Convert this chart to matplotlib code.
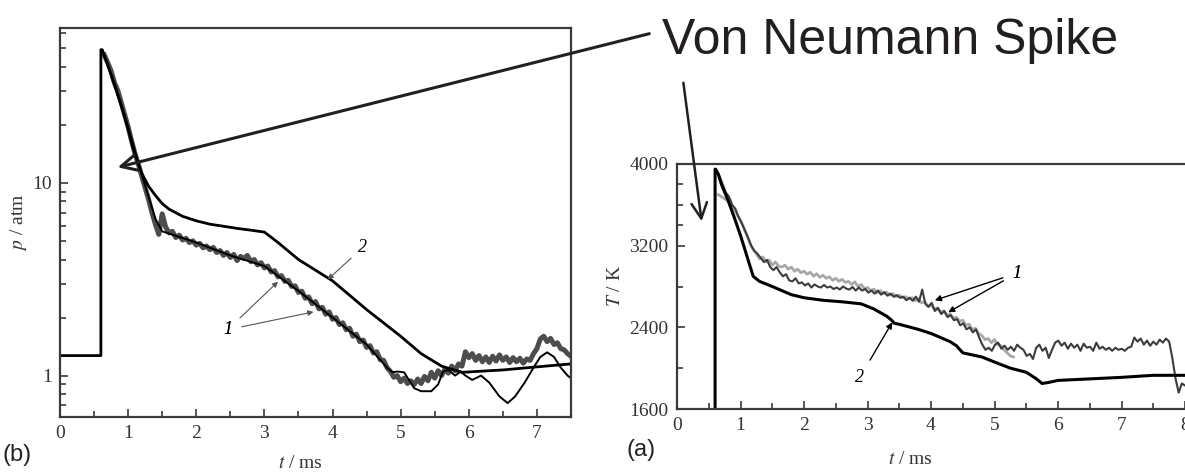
import numpy as np
import matplotlib
matplotlib.use("Agg")
import matplotlib.pyplot as plt
from matplotlib.ticker import FixedLocator, NullFormatter, FixedFormatter

plt.rcParams['font.family'] = 'serif'
plt.rcParams['font.serif'] = ['Liberation Serif', 'DejaVu Serif']
plt.rcParams['mathtext.fontset'] = 'stix'

W, H = 1185, 474

# ---------------- panel (b): pressure, log axis ----------------
# curve 2 (model, smooth black), including the initial step
t_p2 = [0.0, 0.6, 0.6, 0.62, 0.7, 0.8, 0.9, 1.0, 1.1, 1.2, 1.3, 1.4, 1.5, 1.6, 1.8,
        2.0, 2.2, 2.4, 2.6, 2.8, 3.0, 3.2, 3.5, 4.0, 4.5, 5.0, 5.3, 5.6, 5.9, 6.5,
        7.0, 7.5]
p2 = [1.27, 1.27, 49, 49, 41, 32, 25, 19, 14, 11.2, 9.6, 8.6, 7.8, 7.3, 6.7,
      6.35, 6.1, 5.95, 5.8, 5.68, 5.55, 4.9, 4.0, 3.1, 2.2, 1.6, 1.3, 1.12, 1.04, 1.07,
      1.11, 1.15]

# curve 1 (measured, noisy grey trace), sampled every 0.05 ms from 0.65 ms
p1_exp = [46, 42, 38, 33, 30, 26, 22.5, 19.5, 16.5, 14.2, 12.5, 10.8, 9.4, 8.2, 7.0,
          6.1, 5.4, 6.9, 5.9, 5.5, 5.6, 5.2, 5.35, 5.05, 5.15, 4.9, 5.0, 4.75, 4.85,
          4.6, 4.7, 4.5, 4.62, 4.35, 4.45, 4.2, 4.35, 4.1, 4.25, 3.95, 4.15, 4.05,
          4.2, 3.9, 4.0, 3.75, 3.85, 3.62, 3.7, 3.45, 3.5, 3.25, 3.3, 3.08, 3.12,
          2.9, 2.92, 2.7, 2.74, 2.52, 2.56, 2.36, 2.42, 2.22, 2.26, 2.08, 2.14, 1.96,
          2.0, 1.84, 1.88, 1.73, 1.76, 1.6, 1.64, 1.5, 1.53, 1.4, 1.43, 1.31, 1.33,
          1.21, 1.2, 1.1, 1.05, 0.98, 1.0, 0.93, 0.97, 0.91, 0.94, 0.9, 0.96, 0.91,
          0.99, 0.94, 1.04, 0.97, 1.06, 1.0, 1.08, 1.03, 1.12, 1.06, 1.15, 1.12, 1.33,
          1.24, 1.3, 1.2, 1.27, 1.18, 1.25, 1.17, 1.26, 1.19, 1.28, 1.2, 1.25, 1.17,
          1.24, 1.18, 1.23, 1.16, 1.22, 1.2, 1.3, 1.38, 1.55, 1.6, 1.5, 1.56, 1.45,
          1.48, 1.38, 1.36, 1.3, 1.26]
t_p1_exp = np.linspace(0.65, 7.5, len(p1_exp))

# curve 1 (thin black line, mostly hidden under the grey trace)
t_p1_sim = [0.62, 0.8, 1.0, 1.2, 1.4, 1.5, 2.0, 2.5, 3.0, 3.5, 4.0, 4.5, 4.8, 4.88,
            4.95, 5.05, 5.2, 5.3, 5.45, 5.55, 5.62, 5.7, 5.8, 5.88, 5.95, 6.05, 6.18,
            6.3, 6.45, 6.57, 6.68, 6.82, 6.95, 7.05, 7.15, 7.25, 7.35, 7.45, 7.5]
p1_sim = [48, 33, 19.5, 11, 6.5, 5.6, 4.9, 4.2, 3.7, 2.75, 2.0, 1.45, 1.1, 1.04,
          1.05, 1.04, 0.86, 0.83, 0.83, 0.9, 1.05, 1.07, 1.0, 1.05, 1.0, 0.95, 1.0,
          0.92, 0.78, 0.72, 0.78, 0.92, 1.1, 1.25, 1.32, 1.25, 1.1, 1.0, 0.97]

# ---------------- panel (a): temperature ----------------
t_T2 = [0.6, 0.6, 0.65, 0.7, 0.8, 0.9, 1.0, 1.1, 1.2, 1.3, 1.5, 1.8, 2.0, 2.3, 2.6,
        2.9, 3.1, 3.3, 3.38, 3.42, 3.5, 3.8, 4.0, 4.3, 4.4, 4.5, 4.8, 5.0, 5.25, 5.5,
        5.65, 5.75, 5.85, 6.0, 6.5, 7.0, 7.5, 8.0]
T2 = [1600, 3950, 3900, 3800, 3650, 3480, 3300, 3100, 2900, 2850, 2800, 2720, 2690,
      2665, 2650, 2630, 2580, 2510, 2470, 2440, 2430, 2380, 2340, 2260, 2220, 2150,
      2110, 2060, 2000, 1960, 1900, 1850, 1860, 1880, 1895, 1910, 1930, 1930]

# curve 1, dark trace, every 0.05 ms from 0.62 ms
T1_dark = [3950, 3880, 3800, 3720, 3680, 3600, 3560, 3480, 3420, 3350, 3280, 3200,
           3150, 3120, 3080, 3040, 3060, 2990, 2960, 2990, 2940, 2900, 2920, 2860,
           2850, 2880, 2830, 2840, 2810, 2830, 2790, 2820, 2800, 2790, 2815, 2790,
           2800, 2775, 2790, 2770, 2800, 2780, 2770, 2795, 2760, 2790, 2760, 2775,
           2740, 2760, 2730, 2760, 2720, 2745, 2710, 2730, 2700, 2715, 2690, 2700,
           2665, 2690, 2660, 2700, 2650, 2770, 2630, 2600, 2640, 2560, 2590, 2530,
           2560, 2500, 2520, 2470, 2480, 2420, 2440, 2380, 2400, 2350, 2380, 2300,
           2230, 2180, 2200, 2170, 2230, 2250, 2190, 2220, 2180, 2210, 2170, 2230,
           2200, 2180, 2120, 2140, 2090, 2200, 2230, 2170, 2200, 2100, 2180, 2250,
           2270, 2220, 2250, 2190, 2240, 2200, 2230, 2170, 2240, 2200, 2210, 2170,
           2250, 2190, 2210, 2180, 2200, 2170, 2200, 2180, 2190, 2170, 2200, 2210,
           2300, 2260, 2290, 2230, 2270, 2220, 2260, 2230, 2280, 2250, 2290, 2260,
           2100, 1900, 1760, 1850, 1830]
t_T1_dark = np.linspace(0.62, 8.0, len(T1_dark))

# curve 1, light grey trace, every 0.05 ms from 0.65 ms
T1_light = [3700, 3680, 3660, 3640, 3600, 3560, 3500, 3450, 3380, 3300, 3220, 3160,
            3120, 3070, 3090, 3040, 3060, 3010, 3040, 3000, 2990, 3010, 2970, 2990,
            2950, 2970, 2935, 2950, 2920, 2940, 2900, 2925, 2890, 2910, 2880, 2895,
            2860, 2880, 2850, 2870, 2840, 2850, 2820, 2845, 2800, 2820, 2780, 2790,
            2760, 2775, 2740, 2760, 2730, 2745, 2715, 2730, 2700, 2715, 2690, 2700,
            2680, 2690, 2660, 2680, 2640, 2650, 2610, 2620, 2580, 2590, 2550, 2560,
            2520, 2530, 2490, 2500, 2460, 2470, 2420, 2430, 2380, 2390, 2340, 2320,
            2280, 2290, 2250, 2280, 2230, 2220, 2180, 2150, 2120, 2110]
t_T1_light = np.linspace(0.65, 5.3, len(T1_light))

fig = plt.figure(figsize=(W / 100, H / 100), dpi=100)


def px(x, y):
    # pixel position (from top-left) -> figure fraction
    return (x / W, 1 - y / H)


axis_col = '#3a3a3a'
text_col = '#333333'

# ---------- left panel ----------
ax_b = fig.add_axes([60 / W, 1 - 417 / H, 511 / W, 389 / H])
ax_b.plot(t_p1_exp, p1_exp, color='#4d4d4d', lw=3.6, solid_joinstyle='round')
ax_b.plot(t_p1_sim, p1_sim, color='black', lw=1.4)
ax_b.plot(t_p2, p2, color='black', lw=2.0)
ax_b.set_yscale('log')
ax_b.set_xlim(0, 7.5)
ax_b.set_ylim(0.61, 63.5)
ax_b.yaxis.set_major_locator(FixedLocator([1, 10]))
ax_b.yaxis.set_major_formatter(FixedFormatter(['1', '10']))
ax_b.yaxis.set_minor_locator(FixedLocator([0.7, 0.8, 0.9, 2, 3, 4, 5, 6, 7, 8, 9,
                                           20, 30, 40, 50, 60]))
ax_b.yaxis.set_minor_formatter(NullFormatter())
ax_b.set_xticks(range(0, 8))
ax_b.set_xticks(np.arange(0.5, 7.5, 1.0), minor=True)

ax_b.annotate('2', xy=(3.93, 3.15), xytext=(4.44, 4.6), fontsize=13, style='italic',
              ha='center', va='center',
              arrowprops=dict(arrowstyle='-|>', color='#555555', lw=0.8,
                              mutation_scale=8, shrinkA=4, shrinkB=0))
for tip in [(3.2, 3.07), (3.72, 2.14)]:
    ax_b.annotate('1', xy=tip, xytext=(2.46, 1.73), fontsize=13, style='italic',
                  ha='center', va='center',
                  arrowprops=dict(arrowstyle='-|>', color='#555555', lw=0.8,
                                  mutation_scale=8, shrinkA=5, shrinkB=0))
ax_b.set_ylabel(r'$p$ / atm', fontsize=14, color=text_col, labelpad=2)

# ---------- right panel ----------
ax_a = fig.add_axes([677 / W, 1 - 409 / H, 508 / W, 245 / H])
ax_a.plot(t_T1_light, T1_light, color='#a8a8a8', lw=2.0)
ax_a.plot(t_T1_dark, T1_dark, color='#3c3c3c', lw=1.5)
ax_a.plot(t_T2, T2, color='black', lw=2.2)
ax_a.set_xlim(0, 8)
ax_a.set_ylim(1600, 4000)
ax_a.set_yticks([1600, 2400, 3200, 4000])
ax_a.set_yticks([2000, 2800, 3400, 3600, 3800], minor=True)
ax_a.set_xticks(range(0, 9))
ax_a.set_xticks(np.arange(0.5, 8.0, 1.0), minor=True)
ax_a.spines['right'].set_visible(False)

for tip in [(4.06, 2665), (4.27, 2547)]:
    ax_a.annotate('1', xy=tip, xytext=(5.35, 2930), fontsize=13, style='italic',
                  ha='center', va='center',
                  arrowprops=dict(arrowstyle='-|>', color='black', lw=1.0,
                                  mutation_scale=9, shrinkA=5, shrinkB=0))
ax_a.annotate('2', xy=(3.39, 2450), xytext=(2.88, 1910), fontsize=13, style='italic',
              ha='center', va='center',
              arrowprops=dict(arrowstyle='-|>', color='black', lw=1.0,
                              mutation_scale=9, shrinkA=5, shrinkB=0))
ax_a.set_ylabel(r'$T$ / K', fontsize=14, color=text_col, labelpad=4)

for ax in (ax_b, ax_a):
    for s in ax.spines.values():
        s.set_color(axis_col)
        s.set_linewidth(1.6)
    ax.tick_params(which='both', direction='in', top=False, right=False,
                   color=axis_col, width=1.2, labelsize=14, labelcolor=text_col)
    ax.tick_params(which='major', length=6, pad=6)
    ax.tick_params(which='minor', length=4)

fig.text(*px(300, 463), r'$t$ / ms', fontsize=14, color=text_col, ha='center', va='center')
fig.text(*px(910, 460), r'$t$ / ms', fontsize=14, color=text_col, ha='center', va='center')
fig.text(*px(2, 455), '(b)', family='Liberation Sans', fontsize=17, color='#222222',
         ha='left', va='center')
fig.text(*px(626, 450), '(a)', family='Liberation Sans', fontsize=17, color='#222222',
         ha='left', va='center')

# big annotation
ann_col = '#231f20'
fig.text(*px(662, 54), 'Von Neumann Spike', family='Liberation Sans', fontsize=36,
         color=ann_col, ha='left', va='baseline')
fig.add_artist(matplotlib.patches.FancyArrowPatch(
    px(652, 33), px(115, 168), transform=fig.transFigure, arrowstyle='->',
    mutation_scale=28, lw=2.2, color=ann_col))
fig.add_artist(matplotlib.patches.FancyArrowPatch(
    px(683, 80), px(702, 224), transform=fig.transFigure, arrowstyle='->',
    mutation_scale=28, lw=1.8, color=ann_col))

fig.savefig('out.png', dpi=100)
